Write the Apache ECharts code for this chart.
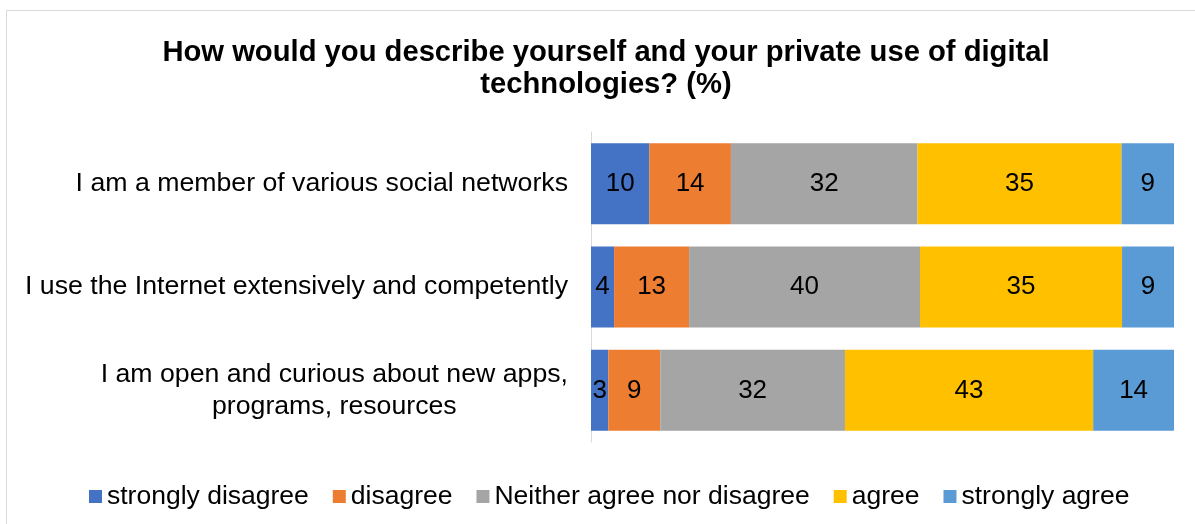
<!DOCTYPE html>
<html>
<head>
<meta charset="utf-8">
<script src="https://cdn.jsdelivr.net/npm/echarts@6/dist/echarts.min.js"></script>
<style>
  html, body { margin: 0; padding: 0; background: #fff; }
  #chart { width: 1195px; height: 524px; }
</style>
</head>
<body>
<div id="chart"></div>
<script>
// Survey statements (top to bottom)
const categories = [
  'I am a member of various social networks',
  'I use the Internet extensively and competently',
  'I am open and curious about new apps,\nprograms, resources'
];

// Answer shares in percent, one array per answer option
const stronglyDisagree = [10, 4, 3];
const disagree = [14, 13, 9];
const neither = [32, 40, 32];
const agree = [35, 35, 43];
const stronglyAgree = [9, 9, 14];

const seriesNames = ['strongly disagree', 'disagree', 'Neither agree nor disagree', 'agree', 'strongly agree'];
const seriesValues = [stronglyDisagree, disagree, neither, agree, stronglyAgree];
const colors = ['#4472C4', '#ED7D31', '#A5A5A5', '#FFC000', '#5B9BD5'];

// 100% stacking: each row is scaled to its own total
const rowTotals = categories.map((_, i) => seriesValues.reduce((s, arr) => s + arr[i], 0));

const chart = echarts.init(document.getElementById('chart'), null, { renderer: 'canvas' });

const font = 'Liberation Sans, Arial, sans-serif';

chart.setOption({
  animation: false,
  color: colors,
  title: {
    text: 'How would you describe yourself and your private use of digital\ntechnologies? (%)',
    left: 606,
    top: 37,
    padding: 0,
    textAlign: 'center',
    textStyle: {
      fontFamily: font,
      fontSize: 29.2,
      fontWeight: 'bold',
      color: '#000',
      lineHeight: 32
    }
  },
  graphic: [{
    type: 'rect',
    shape: { x: 6.5, y: 10.5, width: 1200, height: 520 },
    style: { fill: 'none', stroke: '#d9d9d9', lineWidth: 1 },
    silent: true
  }],
  legend: {
    top: 483,
    left: 89,
    padding: 0,
    itemWidth: 13,
    itemHeight: 13,
    itemGap: 24,
    icon: 'rect',
    textStyle: { fontFamily: font, fontSize: 26.5, color: '#000' },
    data: seriesNames
  },
  grid: { left: 591, right: 21, top: 132, height: 310, containLabel: false },
  xAxis: {
    type: 'value',
    min: 0,
    max: 100,
    show: false
  },
  yAxis: {
    type: 'category',
    inverse: true,
    data: categories,
    axisLine: { show: true, lineStyle: { color: '#d9d9d9', width: 1 } },
    axisTick: { show: false },
    axisLabel: {
      margin: 23,
      fontFamily: font,
      fontSize: 26.7,
      color: '#000',
      lineHeight: 32,
      align: 'right',
      // wrapped labels keep their lines centred on each other
      formatter: v => v.split('\n').map(line => '{c|' + line + '}').join('\n'),
      rich: {
        c: {
          fontFamily: font,
          fontSize: 26.7,
          color: '#000',
          lineHeight: 32,
          align: 'center'
        }
      }
    }
  },
  series: seriesNames.map((name, s) => ({
    name: name,
    type: 'bar',
    stack: 'total',
    barWidth: 81,
    itemStyle: { color: colors[s] },
    label: {
      show: true,
      position: 'inside',
      fontFamily: font,
      fontSize: 26,
      color: '#000',
      formatter: p => String(seriesValues[s][p.dataIndex])
    },
    data: seriesValues[s].map((v, i) => v / rowTotals[i] * 100)
  }))
});
</script>
</body>
</html>
